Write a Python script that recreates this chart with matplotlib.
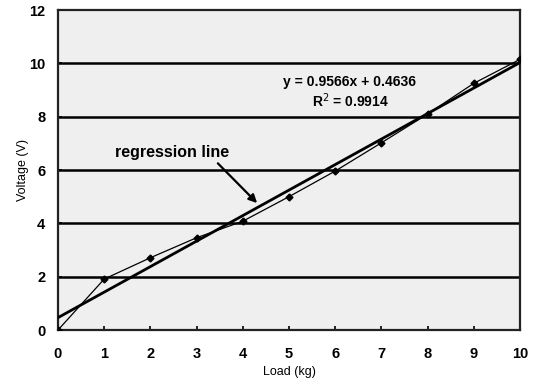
import matplotlib
matplotlib.use("Agg")
import matplotlib.pyplot as plt
import numpy as np

load_kg = [0, 1, 2, 3, 4, 5, 6, 7, 8, 9, 10]
voltage_v = [0.0, 1.91, 2.71, 3.46, 4.08, 5.0, 5.96, 7.02, 8.1, 9.25, 10.15]
slope = 0.9566
intercept = 0.4636
r_squared = 0.9914
x_ticks = [0, 1, 2, 3, 4, 5, 6, 7, 8, 9, 10]
y_ticks = [0, 2, 4, 6, 8, 10, 12]

plt.rcParams['font.family'] = ['Liberation Sans', 'DejaVu Sans']

fig = plt.figure(figsize=(5.36, 3.81), dpi=100)
ax = fig.add_axes([58/536, 1 - 330/381, (520-58)/536, (330-10)/381])
ax.set_facecolor('#efefef')

ax.set_xlim(0, 10)
ax.set_ylim(0, 12)
for yv in y_ticks[1:-1]:
    ax.axhline(yv, color='black', lw=1.8, zorder=1)

xr = np.array([0, 10])
ax.plot(xr, slope * xr + intercept, color='black', lw=2.0, zorder=3)
ax.plot(load_kg, voltage_v, color='black', lw=0.9, marker='D', ms=3.5, zorder=4)

ax.set_xticks(x_ticks)
ax.set_yticks(y_ticks)
ax.tick_params(axis='both', direction='in', length=3, width=1.2, labelsize=10.5)
ax.tick_params(axis='x', pad=12)
ax.tick_params(axis='y', pad=9)
for lbl in ax.get_xticklabels() + ax.get_yticklabels():
    lbl.set_fontweight('bold')
for sp in ax.spines.values():
    sp.set_linewidth(1.6)
    sp.set_color('#222222')

ax.set_xlabel('Load (kg)', fontsize=9, labelpad=4)
ax.set_ylabel('Voltage (V)', fontsize=9, labelpad=0)

ax.text(6.32, 9.29, 'y = 0.9566x + 0.4636', fontsize=10, fontweight='bold', ha='center', va='center', zorder=5)
ax.text(6.32, 8.61, 'R$^2$ = 0.9914', fontsize=10, fontweight='bold', ha='center', va='center', zorder=5)

ax.text(2.47, 6.67, 'regression line', fontsize=11.5, fontweight='bold', ha='center', va='center', zorder=5)
ax.annotate('', xy=(4.31, 4.76), xytext=(3.46, 6.25),
            arrowprops=dict(arrowstyle='-|>', color='black', lw=1.6, mutation_scale=12,
                            shrinkA=0, shrinkB=0), zorder=5)

fig.savefig('out.png', dpi=100)
